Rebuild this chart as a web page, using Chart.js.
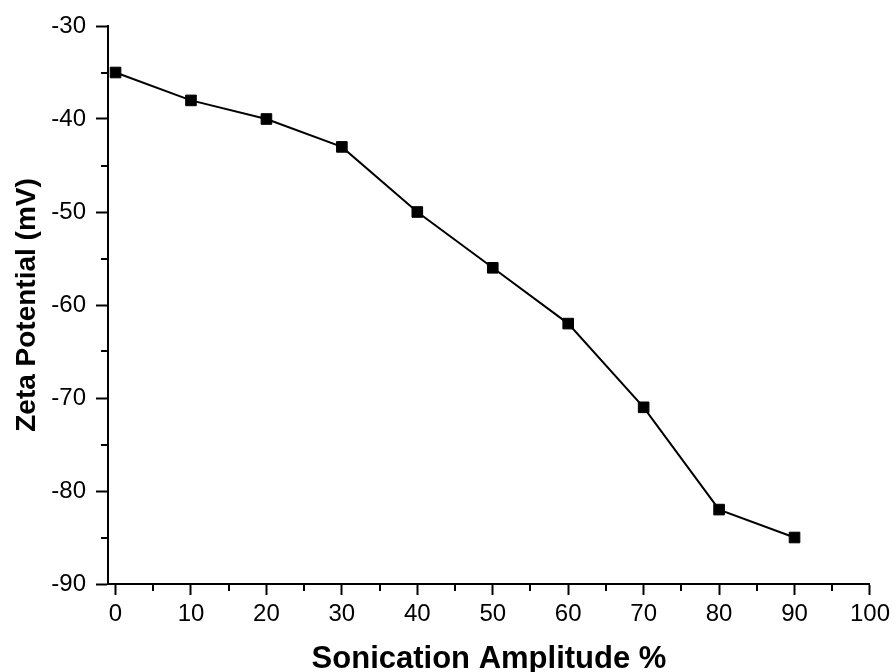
<!DOCTYPE html>
<html>
<head>
<meta charset="utf-8">
<script src="https://cdn.jsdelivr.net/npm/chart.js@4.4.1/dist/chart.umd.min.js"></script>
<style>
    html, body { margin: 0; padding: 0; background: #fff; }
    #wrap { width: 895px; height: 672px; }
</style>
</head>
<body>
<div id="wrap"><canvas id="canvas"></canvas></div>
<script>
// sonication amplitude (%) vs zeta potential (mV)
var amplitude = [0, 10, 20, 30, 40, 50, 60, 70, 80, 90];
var zeta = [-35, -38, -40, -43, -50, -56, -62, -71, -82, -85];
var xTicks = [0, 10, 20, 30, 40, 50, 60, 70, 80, 90, 100];
var yTicks = [-90, -80, -70, -60, -50, -40, -30];

var FONT = '"Liberation Sans", Arial, sans-serif';

// chart.js has no minor ticks, draw them from the scales
var minorTicks = {
    id: 'minorTicks',
    afterDraw: function (chart) {
        var ctx = chart.ctx;
        var x = chart.scales.x, y = chart.scales.y;
        ctx.save();
        ctx.strokeStyle = '#000';
        ctx.lineWidth = 2;
        ctx.beginPath();
        for (var i = 0; i < xTicks.length - 1; i++) {
            var px = Math.round(x.getPixelForValue(xTicks[i] + 5));
            ctx.moveTo(px, y.bottom);
            ctx.lineTo(px, y.bottom + 7);
        }
        for (var j = 0; j < yTicks.length - 1; j++) {
            var py = Math.round(y.getPixelForValue(yTicks[j] + 5));
            ctx.moveTo(x.left, py);
            ctx.lineTo(x.left - 7, py);
        }
        ctx.stroke();
        ctx.restore();
    }
};

var ctx = document.getElementById('canvas').getContext('2d');
var chart = new Chart(ctx, {
    type: 'scatter',
    data: {
        datasets: [{
            data: amplitude.map(function (a, i) { return {x: a, y: zeta[i]}; }),
            showLine: true,
            borderColor: '#000',
            borderWidth: 2,
            pointStyle: 'rect',
            pointRadius: 7.5,
            pointBackgroundColor: '#000',
            pointBorderColor: '#000',
            pointBorderWidth: 1
        }]
    },
    options: {
        responsive: true,
        maintainAspectRatio: false,
        animation: false,
        layout: {padding: {top: 26, right: 23, left: 0, bottom: -6}},
        plugins: {legend: {display: false}, tooltip: {enabled: false}},
        scales: {
            x: {
                type: 'linear',
                min: -1,
                max: 100,
                afterBuildTicks: function (axis) {
                    axis.ticks = xTicks.map(function (v) { return {value: v}; });
                },
                afterFit: function (axis) { axis.height = 94; },
                grid: {drawOnChartArea: false, drawTicks: true, tickLength: 11, tickColor: '#000', tickWidth: 2},
                border: {display: true, color: '#000', width: 2},
                ticks: {color: '#000', font: {family: FONT, size: 24}, padding: 5, maxRotation: 0},
                title: {
                    display: true,
                    text: 'Sonication Amplitude %',
                    color: '#000',
                    font: {family: FONT, size: 31, weight: 'bold'},
                    padding: {top: 4, bottom: 0}
                }
            },
            y: {
                type: 'linear',
                min: -90,
                max: -30,
                afterBuildTicks: function (axis) {
                    axis.ticks = yTicks.map(function (v) { return {value: v}; });
                },
                afterFit: function (axis) { axis.width = 108; },
                grid: {drawOnChartArea: false, drawTicks: true, tickLength: 12, tickColor: '#000', tickWidth: 2},
                border: {display: true, color: '#000', width: 2},
                ticks: {color: '#000', font: {family: FONT, size: 24}, padding: 10},
                title: {
                    display: true,
                    text: 'Zeta Potential (mV)',
                    color: '#000',
                    font: {family: FONT, size: 28, weight: 'bold'},
                    padding: {top: 10, bottom: 0}
                }
            }
        }
    },
    plugins: [minorTicks]
});
</script>
</body>
</html>
